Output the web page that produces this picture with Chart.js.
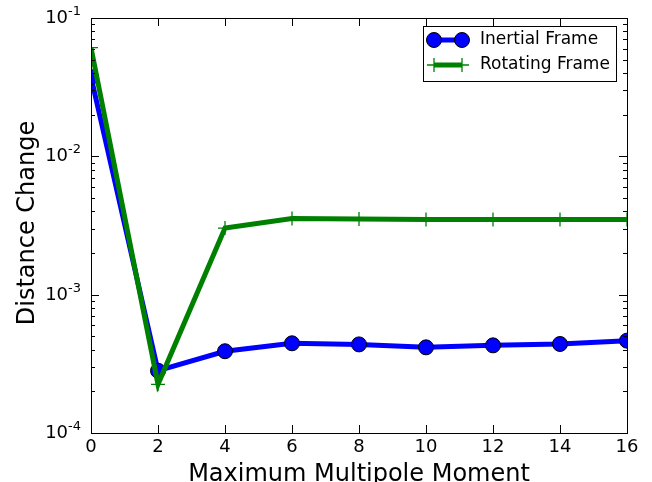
<!DOCTYPE html>
<html>
<head>
<meta charset="utf-8">
<script src="https://cdn.jsdelivr.net/npm/chart.js@4/dist/chart.umd.min.js"></script>
<style>
    html, body { margin: 0; padding: 0; background: #fff; }
    #wrap { width: 652px; height: 482px; }
</style>
</head>
<body>
<div id="wrap"><canvas id="myChart" width="652" height="482"></canvas></div>
<script>
const moments   = [0, 2, 4, 6, 8, 10, 12, 14, 16];
const inertial  = [0.0374, 2.82e-4, 3.9e-4, 4.45e-4, 4.37e-4, 4.16e-4, 4.3e-4, 4.4e-4, 4.65e-4];
const rotating  = [0.061, 2.25e-4, 3.03e-3, 3.55e-3, 3.52e-3, 3.5e-3, 3.5e-3, 3.5e-3, 3.5e-3];
const xTicks    = [0, 2, 4, 6, 8, 10, 12, 14, 16];
const yDecades  = [-4, -3, -2, -1];

const FONT = '"DejaVu Sans", sans-serif';

const toPoints = (ys) => moments.map((x, i) => ({ x: x, y: ys[i] }));

// frame, inward ticks, superscript labels, axis titles and legend
const axesPlugin = {
    id: 'axesPlugin',
    afterDatasetsDraw(chart) {
        const ctx = chart.ctx;
        const a   = chart.chartArea;
        const xs  = chart.scales.x;
        const ys  = chart.scales.y;

        ctx.save();
        ctx.strokeStyle = '#000';
        ctx.lineWidth = 1;
        ctx.strokeRect(a.left + 0.5, a.top + 0.5, a.right - a.left, a.bottom - a.top);

        // x ticks top and bottom
        ctx.beginPath();
        xTicks.forEach((t) => {
            const px = Math.round(xs.getPixelForValue(t)) + 0.5;
            ctx.moveTo(px, a.bottom);
            ctx.lineTo(px, a.bottom - 8);
            ctx.moveTo(px, a.top);
            ctx.lineTo(px, a.top + 8);
        });
        // y ticks, major and minor, left and right
        yDecades.forEach((d) => {
            const py = Math.round(ys.getPixelForValue(Math.pow(10, d))) + 0.5;
            ctx.moveTo(a.left, py);
            ctx.lineTo(a.left + 8, py);
            ctx.moveTo(a.right, py);
            ctx.lineTo(a.right - 8, py);
            if (d < -1) {
                for (let m = 2; m <= 9; m++) {
                    const pm = Math.round(ys.getPixelForValue(m * Math.pow(10, d))) + 0.5;
                    ctx.moveTo(a.left, pm);
                    ctx.lineTo(a.left + 4, pm);
                    ctx.moveTo(a.right, pm);
                    ctx.lineTo(a.right - 4, pm);
                }
            }
        });
        ctx.stroke();

        ctx.fillStyle = '#000';
        // x tick labels
        ctx.font = '18px ' + FONT;
        ctx.textAlign = 'center';
        ctx.textBaseline = 'alphabetic';
        xTicks.forEach((t) => {
            ctx.fillText(String(t), xs.getPixelForValue(t), a.bottom + 19);
        });

        // y tick labels as 10 with superscript exponent
        yDecades.forEach((d) => {
            const py = ys.getPixelForValue(Math.pow(10, d));
            const sup = '-' + Math.abs(d);
            ctx.font = '13px ' + FONT;
            const supW = ctx.measureText(sup).width;
            ctx.textAlign = 'right';
            ctx.textBaseline = 'alphabetic';
            ctx.fillText(sup, a.left - 10, py - 3);
            ctx.font = '18px ' + FONT;
            ctx.fillText('10', a.left - 10 - supW, py + 5);
        });

        // axis titles
        ctx.font = '24px ' + FONT;
        ctx.textAlign = 'center';
        ctx.textBaseline = 'alphabetic';
        ctx.fillText('Maximum Multipole Moment', (a.left + a.right) / 2, 481);
        ctx.save();
        ctx.translate(34, 223);
        ctx.rotate(-Math.PI / 2);
        ctx.fillText('Distance Change', 0, 0);
        ctx.restore();

        // legend
        const lx = 423, ly = 26, lw = 193, lh = 55;
        ctx.fillStyle = '#fff';
        ctx.fillRect(lx, ly, lw, lh);
        ctx.strokeStyle = '#000';
        ctx.lineWidth = 1;
        ctx.strokeRect(lx + 0.5, ly + 0.5, lw, lh);

        const rows = [
            { label: 'Inertial Frame', color: '#0000ff', y: 40, marker: 'circle' },
            { label: 'Rotating Frame', color: '#008000', y: 65, marker: 'cross' }
        ];
        rows.forEach((r) => {
            ctx.strokeStyle = r.color;
            ctx.lineWidth = 5;
            ctx.beginPath();
            ctx.moveTo(434, r.y);
            ctx.lineTo(462, r.y);
            ctx.stroke();
            [434, 462].forEach((mx) => {
                if (r.marker === 'circle') {
                    ctx.beginPath();
                    ctx.arc(mx, r.y, 7.5, 0, Math.PI * 2);
                    ctx.fillStyle = r.color;
                    ctx.fill();
                    ctx.lineWidth = 1;
                    ctx.strokeStyle = '#000';
                    ctx.stroke();
                } else {
                    ctx.beginPath();
                    ctx.lineWidth = 1.3;
                    ctx.strokeStyle = r.color;
                    ctx.moveTo(mx, r.y - 7);
                    ctx.lineTo(mx, r.y + 7);
                    ctx.moveTo(mx - 7, r.y);
                    ctx.lineTo(mx + 7, r.y);
                    ctx.stroke();
                }
            });
            ctx.fillStyle = '#000';
            ctx.font = '17px ' + FONT;
            ctx.textAlign = 'left';
            ctx.textBaseline = 'middle';
            ctx.fillText(r.label, 480, r.y);
        });
        ctx.restore();
    }
};

const ctx = document.getElementById('myChart');

new Chart(ctx, {
    type: 'line',
    data: {
        datasets: [{
            label: 'Inertial Frame',
            data: toPoints(inertial),
            borderColor: '#0000ff',
            backgroundColor: '#0000ff',
            borderWidth: 5,
            pointRadius: 7.5,
            pointBorderColor: '#000',
            pointBorderWidth: 1,
            pointBackgroundColor: '#0000ff',
            order: 1,
            clip: 0
        }, {
            label: 'Rotating Frame',
            data: toPoints(rotating),
            borderColor: '#008000',
            backgroundColor: '#008000',
            borderWidth: 5,
            pointStyle: 'cross',
            pointRadius: 7,
            pointBorderColor: '#008000',
            pointBorderWidth: 1.3,
            order: 0,
            clip: 0
        }]
    },
    options: {
        responsive: false,
        animation: false,
        layout: {
            padding: { left: 91, right: 25, top: 18, bottom: 49 }
        },
        plugins: {
            legend: { display: false },
            tooltip: { enabled: false }
        },
        scales: {
            x: {
                type: 'linear',
                min: 0,
                max: 16,
                ticks: { display: false },
                grid: { display: false, drawTicks: false },
                border: { display: false },
                title: { display: false }
            },
            y: {
                type: 'logarithmic',
                min: 1e-4,
                max: 1e-1,
                ticks: { display: false },
                grid: { display: false, drawTicks: false },
                border: { display: false },
                title: { display: false }
            }
        }
    },
    plugins: [axesPlugin]
});
</script>
</body>
</html>
